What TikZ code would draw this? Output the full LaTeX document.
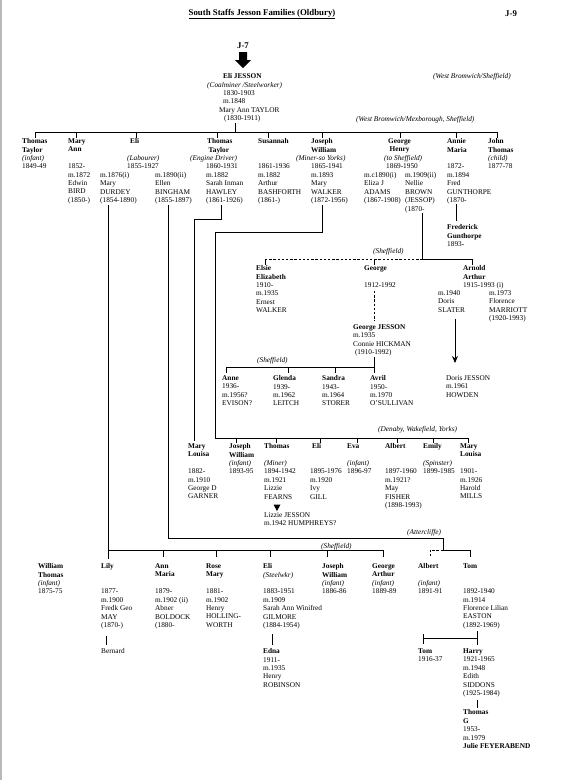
\documentclass[tikz,border=0pt]{standalone}
\usepackage{fontspec}
\setmainfont{Liberation Serif}
\usetikzlibrary{arrows.meta}
\newcommand\fs{\fontsize{7.3}{8.45}\selectfont}
\newcommand\bn[1]{\textbf{#1}}
\newcommand\oc[1]{\textit{#1}}
\begin{document}
\begin{tikzpicture}[x=1pt,y=-1pt,
  p/.style={anchor=north west, inner sep=0pt, align=left, font=\fs},
  hd/.style={inner sep=0pt, font=\fontsize{8.8}{10}\selectfont\bfseries},
  ln/.style={line width=0.85pt},
  dsh/.style={line width=0.85pt, dash pattern=on 2.4pt off 1.8pt}]
\useasboundingbox (0,0) rectangle (567,780);
\fill[white] (0,0) rectangle (567,780);
\fill[gray!55] (0,0) rectangle (2,780);

% ---- heading
\node[hd] (title) at (262,14) {\underline{South Staffs Jesson Families (Oldbury)}};
\node[hd, anchor=west] (j9) at (505,14) {J-9};
\node[hd] (j7) at (243,46) {J-7};
\fill (239,52) -- (247,52) -- (247,60) -- (251,60) -- (243,68) -- (235,60) -- (239,60) -- cycle;

% ---- Eli Jesson
\node[p] (elij) at (223,73.3) {\bn{Eli JESSON}};
\node[p] (elio) at (207,81.8) {\oc{(Coalminer /Steelworker)}};
\node[p] (elid) at (223,90.3) {1830-1903\\m.1848};
\node[p] (elis) at (219,107.2) {Mary Ann TAYLOR};
\node[p] (elisd) at (224,115.7) {(1830-1911)};
\node[p] (wbs) at (433,73.3) {\oc{(West Bromwich/Sheffield)}};
\node[p] (wbm) at (356,115.7) {\oc{(West Bromwich/Mexborough, Sheffield)}};

% ---- row 1
\node[p] (tt1) at (22,138.3) {\bn{Thomas}\\\bn{Taylor}\\\oc{(infant)}\\1849-49};
\node[p] (ma) at (68,138.3) {\bn{Mary}\\\bn{Ann}\\~\\1852-\\m.1872\\Edwin\\BIRD\\(1850-)};
\node[p] (eli1) at (130,138.3) {\bn{Eli}};
\node[p] (eli1o) at (127,155.2) {\oc{(Labourer)}\\1855-1927};
\node[p] (durdey) at (100,172.1) {m.1876(i)\\Mary\\DURDEY\\(1854-1890)};
\node[p] (bingham) at (155,172.1) {m.1890(ii)\\Ellen\\BINGHAM\\(1855-1897)};
\node[p] (tt) at (207,138.3) {\bn{Thomas}\\\hspace{1.5pt}\bn{Taylor}};
\node[p] (tto) at (190,155.2) {\oc{(Engine Driver)}};
\node[p] (ttd) at (206,163.7) {1860-1931\\m.1882\\Sarah Inman\\HAWLEY\\(1861-1926)};
\node[p] (su) at (258,138.3) {\bn{Susannah}\\~\\~\\1861-1936\\m.1882\\Arthur\\BASHFORTH\\(1861-)};
\node[p] (jw) at (311,138.3) {\bn{Joseph}\\\bn{William}};
\node[p] (jwo) at (296,155.2) {\oc{(Miner-so Yorks)}};
\node[p] (jwd) at (311,163.7) {1865-1941\\m.1893\\Mary\\WALKER\\(1872-1956)};
\node[p] (gh) at (388,138.3) {\bn{George}\\\hspace{1.5pt}\bn{Henry}};
\node[p] (gho) at (384,155.2) {\oc{(to Sheffield)}\\\hspace{2pt}1869-1950};
\node[p] (adams) at (364,172.1) {m.c1890(i)\\Eliza J\\ADAMS\\(1867-1908)};
\node[p] (brown) at (405,172.1) {m.1909(ii)\\Nellie\\BROWN\\(JESSOP)\\(1870-};
\node[p] (am) at (447,138.3) {\bn{Annie}\\\bn{Maria}\\~\\1872-\\m.1894\\Fred\\GUNTHORPE\\(1870-};
\node[p] (jt) at (488,138.3) {\bn{John}\\\bn{Thomas}\\\oc{(child)}\\1877-78};
\node[p] (fg) at (447,224.3) {\bn{Frederick}\\\bn{Gunthorpe}\\1893-};

% row 1 connectors
\coordinate (eT) at (235,123);
\coordinate (b1L) at (35,132);
\coordinate (b1R) at (497,132);
\draw[ln] (eT) -- (235,132);
\draw[ln] (b1L) -- (b1R);
\foreach \x in {35,76,136,217,268,322,400,456,497} \draw[ln] (\x,132) -- (\x,137.5);
\coordinate (amD) at (456,204);
\draw[ln] (amD) -- (456,221);

% ---- George Henry's children
\node[p] (sh1) at (373,248.3) {\oc{(Sheffield)}};
\coordinate (nbD) at (422,213);
\coordinate (nbJ) at (422,259);
\draw[ln] (nbD) -- (nbJ);
\draw[dsh] (265,259) -- (nbJ);
\draw[ln] (nbJ) -- (472,259);
\foreach \x in {265,374,472} \draw[ln] (\x,259) -- (\x,265);
\node[p] (elsie) at (256,265.3) {\bn{Elsie}\\\bn{Elizabeth}\\1910-\\m.1935\\Ernest\\WALKER};
\node[p] (geo) at (364,265.3) {\bn{George}\\~\\1912-1992};
\node[p] (arn) at (463,265.3) {\bn{Arnold}\\\bn{Arthur}\\1915-1993 (i)};
\node[p] (slater) at (438,290.3) {m.1940\\Doris\\SLATER};
\node[p] (marr) at (489,290.3) {m.1973\\Florence\\MARRIOTT\\(1920-1993)};
\coordinate (gD) at (374,291);
\draw[dsh] (gD) -- (374,321);
\node[p] (gj) at (353,324.3) {\bn{George JESSON}\\m.1935\\Connie HICKMAN\\\ (1910-1992)};
\coordinate (arT) at (455,319);
\coordinate (arB) at (455,363);
\draw[line width=0.9pt, -{Stealth[length=7pt,width=6pt]}] (arT) -- (arB);
\node[p] (doris) at (446,375.3) {Doris JESSON\\m.1961\\HOWDEN};

% ---- George Jesson's children
\coordinate (gjD) at (374,357);
\coordinate (gjJ) at (374,367);
\draw[ln] (gjD) -- (gjJ) -- (226,367);
\foreach \x in {226,288,335,374} \draw[ln] (\x,367) -- (\x,373);
\node[p] (sh2) at (257,357.3) {\oc{(Sheffield)}};
\node[p] (anne) at (222,375.3) {\bn{Anne}\\1936-\\m.1956?\\EVISON?};
\node[p] (glenda) at (273,375.3) {\bn{Glenda}\\1939-\\m.1962\\LEITCH};
\node[p] (sandra) at (322,375.3) {\bn{Sandra}\\1943-\\m.1964\\STORER};
\node[p] (avril) at (370,375.3) {\bn{Avril}\\1950-\\m.1970\\O'SULLIVAN};

% ---- Thomas Taylor and Joseph William lines
\coordinate (ttD) at (221,205);
\draw[ln] (ttD) -- (221,219) -- (194,219) -- (194,441);
\coordinate (jwD) at (322,205);
\draw[ln] (jwD) -- (322,232) -- (215,232) -- (215,438) -- (468,438);
\foreach \x in {236,276,320,357,397,433,468} \draw[ln] (\x,438) -- (\x,443);
\node[p] (denaby) at (378,426.3) {\oc{(Denaby, Wakefield, Yorks)}};

% ---- Denaby row
\node[p] (mlA) at (188,443.3) {\bn{Mary}\\\bn{Louisa}\\~\\1882-\\m.1910\\George D\\GARNER};
\node[p] (jwc) at (229,443.3) {\bn{Joseph}\\\bn{William}\\\oc{(infant)}\\1893-95};
\node[p] (thc) at (264,443.3) {\bn{Thomas}\\~\\\oc{(Miner)}\\1894-1942\\m.1921\\Lizzie\\FEARNS};
\node[p] (elic) at (310,443.3) {\bn{\hspace{2pt}Eli}\\~\\~\\1895-1976\\m.1920\\Ivy\\GILL};
\node[p] (eva) at (347,443.3) {\bn{Eva}\\~\\\oc{(infant)}\\1896-97};
\node[p] (albc) at (385,443.3) {\bn{Albert}\\~\\~\\1897-1960\\m.1921?\\May\\FISHER\\(1898-1993)};
\node[p] (emily) at (423,443.3) {\bn{Emily}\\~\\\oc{(Spinster)}\\1899-1985};
\node[p] (mlB) at (460,443.3) {\bn{Mary}\\\bn{Louisa}\\~\\1901-\\m.1926\\Harold\\MILLS};
\fill (273.5,504.5) -- (280.5,504.5) -- (277,511) -- cycle;
\node[p] (lizzie) at (264,512.3) {Lizzie JESSON\\m.1942 HUMPHREYS?};

% ---- Eli's families (Durdey / Bingham)
\coordinate (duD) at (108,205);
\draw[ln] (duD) -- (108,559);
\draw[ln] (108,550) -- (383,550);
\foreach \x in {163,216,270,327,383} \draw[ln] (\x,550) -- (\x,557);
\coordinate (biD) at (168,205);
\draw[ln] (biD) -- (168,538) -- (443,538) -- (443,550) -- (470,550) -- (470,557);
\draw[dsh] (443,550) -- (430,550) -- (430,557);
\node[p] (sh3) at (321,543.3) {\oc{(Sheffield)}};
\node[p] (att) at (407,529.3) {\oc{(Attercliffe)}};

% ---- bottom row
\node[p] (wt) at (38,563.3) {\bn{William}\\\bn{Thomas}\\\oc{(infant)}\\1875-75};
\node[p] (lily) at (101,563.3) {\bn{Lily}\\~\\~\\1877-\\m.1900\\Fredk Geo\\MAY\\(1870-)};
\node[p] (annm) at (155,563.3) {\bn{Ann}\\\bn{Maria}\\~\\1879-\\m.1902 (ii)\\Abner\\BOLDOCK\\(1880-};
\node[p] (rose) at (206,563.3) {\bn{Rose}\\\bn{Mary}\\~\\1881-\\m.1902\\Henry\\HOLLING-\\WORTH};
\node[p] (elib) at (263,563.3) {\bn{Eli}\\\oc{(Steelwkr)}\\~\\1883-1951\\m.1909\\Sarah Ann Winifred\\GILMORE\\(1884-1954)};
\node[p] (jwb) at (322,563.3) {\bn{Joseph}\\\bn{William}\\\oc{(infant)}\\1886-86};
\node[p] (gab) at (372,563.3) {\bn{George}\\\bn{Arthur}\\\oc{(infant)}\\1889-89};
\node[p] (alb) at (418,563.3) {\bn{Albert}\\~\\\oc{(infant)}\\1891-91};
\node[p] (tom) at (463,563.3) {\bn{Tom}\\~\\~\\1892-1940\\m.1914\\Florence Lilian\\EASTON\\(1892-1969)};

\coordinate (lyD) at (106,636);
\draw[ln] (lyD) -- (106,645);
\node[p] (bern) at (101,648.3) {Bernard};
\coordinate (ebD) at (272,634);
\draw[ln] (ebD) -- (272,645);
\node[p] (edna) at (263,648.3) {\bn{Edna}\\1911-\\m.1935\\Henry\\ROBINSON};
\coordinate (tmD) at (477,631);
\draw[ln] (tmD) -- (477,645);
\draw[ln] (423,638) -- (477,638);
\draw[ln] (423,634) -- (423,644);
\node[p] (tomj) at (418,648.3) {\bn{Tom}\\1916-37};
\node[p] (harry) at (463,648.3) {\bn{Harry}\\1921-1965\\m.1948\\Edith\\SIDDONS\\(1925-1984)};
\coordinate (hyD) at (477,700);
\draw[ln] (hyD) -- (477,708);
\node[p] (thg) at (463,709.5) {\bn{Thomas}\\\bn{G}\\1953-\\m.1979\\\bn{Julie FEYERABEND}};
\end{tikzpicture}
\end{document}
